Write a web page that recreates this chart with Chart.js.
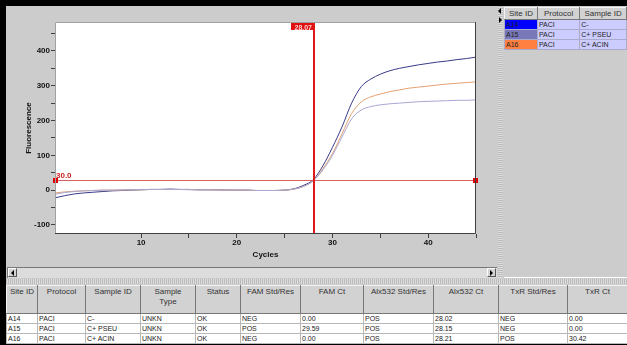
<!DOCTYPE html>
<html>
<head>
<meta charset="utf-8">
<script src="https://cdn.jsdelivr.net/npm/chart.js@4.4.1/dist/chart.umd.min.js"></script>
<style>
body { margin: 0; width: 627px; height: 345px; overflow: hidden; position: relative; background: #000; font-family: "Liberation Sans", Arial, sans-serif; }
.abs { position: absolute; }
#panel { left: 6px; top: 6px; width: 621px; height: 336px; background: #cccccc; }
#chartBox { left: 6px; top: 6px; width: 491px; height: 256px; }
#scroll { left: 7px; top: 267px; width: 489px; height: 10px; background: #dcdcdc; border-top: 1px solid #777; border-left: 1px solid #777; }
.btn { width: 9px; height: 9px; background: #d4d4d4; border-right: 1px solid #555; border-bottom: 1px solid #555; border-top: 1px solid #fff; border-left: 1px solid #fff; box-sizing: border-box; }
.tri-l { width: 0; height: 0; border-top: 3px solid transparent; border-bottom: 3px solid transparent; border-right: 3px solid #000; }
.tri-r { width: 0; height: 0; border-top: 3px solid transparent; border-bottom: 3px solid transparent; border-left: 3px solid #000; }
#grip { left: 498px; top: 6px; width: 5px; height: 272px; background: repeating-linear-gradient(#bbb 0 1px, #ddd 1px 2px); }
#hsplit { left: 6px; top: 279px; width: 621px; height: 5px; background: repeating-linear-gradient(90deg, #bbb 0 1px, #ddd 1px 2px); }
#rightPanel { left: 504px; top: 7px; width: 123px; height: 270px; background: #cccccc; border-bottom: 1px solid #fff; overflow: hidden; }
table { border-collapse: collapse; table-layout: fixed; }
th { background: #d2d2d2; color: #333; font-weight: normal; font-size: 8px; vertical-align: top; text-align: center; padding: 1px 0 0 0; border-top: 1px solid #f4f4f4; border-left: 1px solid #f4f4f4; border-right: 1px solid #777; border-bottom: 1px solid #777; line-height: 10px; overflow: hidden; white-space: nowrap; }
td { font-size: 7px; color: #222; padding: 0 0 0 1px; line-height: 9px; white-space: nowrap; overflow: hidden; text-align: left; }
#rightTable td { background: #ccccff; border: 1px solid #aaaacc; height: 9px; }
#bottomTable { position: absolute; left: 6px; top: 285px; width: 621px; }
#bottomTable td { background: #fff; border: 1px solid #b8b8b8; height: 8px; }
</style>
</head>
<body>
<div id="panel" class="abs"></div>
<div id="chartBox" class="abs"><canvas id="ampChart" width="491" height="256"></canvas></div>
<div id="scroll" class="abs"></div>
<div class="abs btn" style="left:8px;top:268px;"></div>
<div class="abs tri-l" style="left:11px;top:270px;"></div>
<div class="abs btn" style="left:487px;top:268px;"></div>
<div class="abs tri-r" style="left:490px;top:270px;"></div>
<div id="grip" class="abs"></div>
<div class="abs tri-l" style="left:498px;top:8px;"></div>
<div class="abs tri-r" style="left:499px;top:17px;"></div>
<div id="rightPanel" class="abs">
  <table id="rightTable"></table>
</div>
<div id="hsplit" class="abs"></div>
<table id="bottomTable"></table>

<script>
// Datos de la curva de amplificación
const cycles = [1, 2, 3, 4, 5, 6, 7, 8, 9, 10, 11, 12, 13, 14, 15, 16, 17, 18, 19, 20, 21, 22, 23, 24, 25, 26, 27, 28, 29, 30, 31, 32, 33, 34, 35, 36, 37, 38, 39, 40, 41, 42, 43, 44, 45];
const a14Values = [-22, -16, -11, -8, -6, -4, -2, -1, 0, 1, 2, 2, 3, 2, 2, 1, 1, 1, 0, 0, 0, -1, -1, -1, 0, 4, 14, 30, 70, 123, 182, 250, 297, 319, 333, 343, 350, 355, 360, 364, 368, 371, 375, 378, 382];
const a15Values = [-12, -7, -4, -2, -1, 0, 0, 1, 1, 2, 2, 2, 2, 2, 1, 1, 1, 0, 0, 0, 0, -1, -1, -1, 0, 3, 11, 27, 58, 100, 153, 205, 230, 240, 245, 248, 250, 252, 254, 255, 256, 257, 258, 258, 259];
const a16Values = [-8, -5, -3, -2, -1, 0, 0, 0, 1, 1, 2, 2, 2, 2, 2, 1, 1, 1, 0, 0, 0, -1, -1, -1, 0, 3, 11, 27, 62, 105, 162, 220, 253, 268, 276, 283, 288, 293, 296, 299, 302, 305, 307, 309, 311];
const xTickValues = [10, 15, 20, 25, 30, 35, 40, 45];
const yTickValues = [-100, -50, 0, 50, 100, 150, 200, 250, 300, 350, 400, 450];
const thresholdValue = 30.0;
const ctValue = 28.07;

// Datos de las tablas
const siteIds = ["A14", "A15", "A16"];
const siteColors = ["#0000ff", "#7878b8", "#ff8040"];
const protocols = ["PACI", "PACI", "PACI"];
const sampleIds = ["C-", "C+ PSEU", "C+ ACIN"];
const sampleTypes = ["UNKN", "UNKN", "UNKN"];
const statuses = ["OK", "OK", "OK"];
const famStdRes = ["NEG", "POS", "NEG"];
const famCt = ["0.00", "29.59", "0.00"];
const alxStdRes = ["POS", "POS", "POS"];
const alxCt = ["28.02", "28.15", "28.21"];
const txrStdRes = ["NEG", "NEG", "POS"];
const txrCt = ["0.00", "0.00", "30.42"];

// Tabla derecha
const rightTable = document.getElementById("rightTable");
let html = '<colgroup><col style="width:36px"><col style="width:47px"><col style="width:50px"></colgroup>';
html += '<tr style="height:12px"><th>Site ID</th><th>Protocol</th><th>Sample ID</th></tr>';
siteIds.forEach((id, i) => {
    html += `<tr><td style="background:${siteColors[i]}">${id}</td><td>${protocols[i]}</td><td>${sampleIds[i]}</td></tr>`;
});
rightTable.innerHTML = html;

// Tabla inferior
const bottomTable = document.getElementById("bottomTable");
const colWidths = [31, 48, 55, 55, 45, 60, 63, 70, 65, 69, 60];
const headers = ["Site ID", "Protocol", "Sample ID", "Sample<br>Type", "Status", "FAM Std/Res", "FAM Ct", "Alx532 Std/Res", "Alx532 Ct", "TxR Std/Res", "TxR Ct"];
html = '<colgroup>' + colWidths.map(w => `<col style="width:${w}px">`).join('') + '</colgroup>';
html += '<tr style="height:28px">' + headers.map(h => `<th>${h}</th>`).join('') + '</tr>';
siteIds.forEach((id, i) => {
    const row = [id, protocols[i], sampleIds[i], sampleTypes[i], statuses[i], famStdRes[i], famCt[i], alxStdRes[i], alxCt[i], txrStdRes[i], txrCt[i]];
    html += '<tr>' + row.map(v => `<td>${v}</td>`).join('') + '</tr>';
});
bottomTable.innerHTML = html;

// Plugin: fondo blanco, umbral, línea Ct y marco
const plotDecor = {
    id: 'plotDecor',
    beforeDraw(chart) {
        const { ctx, chartArea: a } = chart;
        ctx.save();
        ctx.fillStyle = '#ffffff';
        ctx.fillRect(a.left, a.top, a.right - a.left, a.bottom - a.top);
        ctx.restore();
    },
    afterDatasetsDraw(chart) {
        const { ctx, chartArea: a, scales } = chart;
        const ty = Math.round(scales.y.getPixelForValue(thresholdValue)) + 0.5;
        const cx = scales.x.getPixelForValue(ctValue);
        ctx.save();
        // línea de umbral
        ctx.strokeStyle = '#d86060';
        ctx.lineWidth = 1;
        ctx.beginPath();
        ctx.moveTo(a.left, ty);
        ctx.lineTo(a.right, ty);
        ctx.stroke();
        // línea Ct
        ctx.strokeStyle = '#e01818';
        ctx.lineWidth = 2;
        ctx.beginPath();
        ctx.moveTo(cx, a.top);
        ctx.lineTo(cx, a.bottom);
        ctx.stroke();
        // marcadores del umbral
        ctx.fillStyle = '#e00000';
        ctx.fillRect(a.left - 2, ty - 2.5, 5, 5);
        ctx.fillRect(a.right - 3, ty - 2.5, 5, 5);
        // etiquetas
        ctx.font = 'bold 8px "Liberation Sans", Arial, sans-serif';
        ctx.fillStyle = '#cc2020';
        ctx.textBaseline = 'alphabetic';
        ctx.textAlign = 'left';
        ctx.fillText(thresholdValue.toFixed(1), a.left + 1, ty - 3);
        ctx.fillStyle = '#e01010';
        ctx.fillRect(cx - 23, a.top + 1, 22, 7);
        ctx.fillStyle = '#ffd0d0';
        ctx.font = 'bold 7px "Liberation Sans", Arial, sans-serif';
        ctx.textAlign = 'right';
        ctx.fillText(ctValue.toFixed(2), cx - 2, a.top + 7.5);
        // marco
        ctx.lineWidth = 1;
        ctx.strokeStyle = '#a0a0a0';
        ctx.beginPath();
        ctx.moveTo(a.left + 0.5, a.bottom);
        ctx.lineTo(a.left + 0.5, a.top + 0.5);
        ctx.lineTo(a.right, a.top + 0.5);
        ctx.stroke();
        ctx.strokeStyle = '#404040';
        ctx.beginPath();
        ctx.moveTo(a.right - 0.5, a.top);
        ctx.lineTo(a.right - 0.5, a.bottom - 0.5);
        ctx.lineTo(a.left, a.bottom - 0.5);
        ctx.stroke();
        ctx.restore();
    }
};

const tickFont = { family: '"Liberation Sans", Arial, sans-serif', size: 8, weight: 'bold' };

const ctx = document.getElementById('ampChart').getContext('2d');
const ampChart = new Chart(ctx, {
    type: 'line',
    data: {
        datasets: [
            { label: 'A15', data: cycles.map((c, i) => ({ x: c, y: a15Values[i] })), borderColor: '#a8a8d4' },
            { label: 'A16', data: cycles.map((c, i) => ({ x: c, y: a16Values[i] })), borderColor: '#e4a272' },
            { label: 'A14', data: cycles.map((c, i) => ({ x: c, y: a14Values[i] })), borderColor: '#3a3a88' }
        ].map(d => Object.assign(d, { borderWidth: 1, pointRadius: 0, cubicInterpolationMode: 'monotone', fill: false }))
    },
    options: {
        responsive: false,
        animation: false,
        layout: { padding: { left: 0, top: 16, right: 21, bottom: 0 } },
        plugins: { legend: { display: false }, tooltip: { enabled: false } },
        scales: {
            x: {
                type: 'linear',
                min: 1,
                max: 45,
                afterBuildTicks: scale => { scale.ticks = xTickValues.map(v => ({ value: v })); },
                afterFit: scale => { scale.height = 28; },
                grid: { drawOnChartArea: false, drawTicks: true, tickLength: 4, tickColor: '#404040' },
                border: { display: false },
                ticks: { font: tickFont, color: '#111', padding: 0, maxRotation: 0, autoSkip: false,
                    callback: v => (v % 10 === 0 ? String(v) : '') },
                title: { display: true, text: 'Cycles', font: tickFont, color: '#111', padding: { top: 0, bottom: 2 } }
            },
            y: {
                min: -126,
                max: 483,
                afterBuildTicks: scale => { scale.ticks = yTickValues.map(v => ({ value: v })); },
                afterFit: scale => { scale.width = 49; },
                grid: { drawOnChartArea: false, drawTicks: true, tickLength: 4, tickColor: '#404040' },
                border: { display: false },
                ticks: { font: tickFont, color: '#111', padding: 1, autoSkip: false,
                    callback: v => (v % 100 === 0 ? String(v) : '') },
                title: { display: true, text: 'Fluorescence', font: tickFont, color: '#111', padding: { top: 18, bottom: 0 } }
            }
        }
    },
    plugins: [plotDecor]
});
</script>
</body>
</html>
